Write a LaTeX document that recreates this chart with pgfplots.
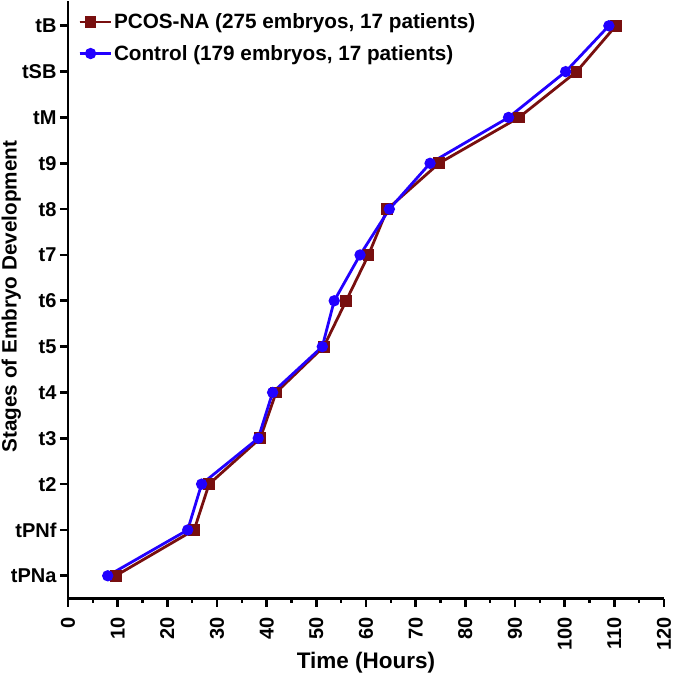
\documentclass[border=0pt]{standalone}
\usepackage{fontspec}
\setmainfont{Liberation Sans}
\usepackage{pgfplots}
\pgfplotsset{compat=1.18}
\definecolor{pcos}{RGB}{120,15,15}
\definecolor{ctrl}{RGB}{34,0,255}
\begin{document}
\begin{tikzpicture}
\begin{axis}[
  scale only axis,
  width=596pt, height=598.1pt,
  xmin=0, xmax=120, ymin=-0.5, ymax=12.55,
  axis x line*=bottom, axis y line*=left,
  axis line style={line width=2.8pt, -},
  every tick/.style={line width=2.6pt, black},
  tick align=outside,
  major tick length=8pt, minor tick length=4pt,
  xtick={0,10,...,120}, minor xtick={5,15,...,115},
  ytick={0,...,12},
  yticklabels={tPNa,tPNf,t2,t3,t4,t5,t6,t7,t8,t9,tM,tSB,tB},
  /pgf/number format/assume math mode=true,
  tick label style={font=\fontsize{20}{22}\selectfont\bfseries},
  xticklabel style={rotate=90, anchor=east, inner sep=1pt},
  xticklabel shift=9.5pt,
  xlabel={Time (Hours)},
  ylabel={Stages of Embryo Development},
  xlabel style={font=\fontsize{22.5}{24}\selectfont\bfseries, yshift=3.5pt},
  every axis y label/.style={at={(axis description cs:0,0.505)},
    xshift=-43.5pt, rotate=90, anchor=south,
    font=\fontsize{20.7}{22}\selectfont\bfseries},
  clip=false,
  legend cell align=left,
  legend style={at={(0,1)}, anchor=north west, draw=none, fill=none,
    font=\fontsize{20.7}{22}\selectfont\bfseries, row sep=11pt,
    xshift=7pt, yshift=-9pt},
  legend image code/.code={\path (0pt,0pt) -- (31pt,0pt);
    \draw[#1] (0pt,0pt) -- (22pt,0pt);
    \draw[#1, only marks] plot coordinates {(11pt,0pt)};},
]
\addplot[color=pcos, line width=2.8pt, mark=square*, mark size=4.5pt,
  mark options={solid}] coordinates {
  (9.6,0) (25.4,1) (28.4,2) (38.7,3) (41.9,4) (51.5,5) (56.0,6)
  (60.5,7) (64.3,8) (74.7,9) (90.8,10) (102.4,11) (110.3,12)};
\addlegendentry{PCOS-NA (275 embryos, 17 patients)}
\addplot[color=ctrl, line width=2.8pt, mark=*, mark size=4.2pt,
  mark options={solid}] coordinates {
  (8.0,0) (24.1,1) (26.9,2) (38.3,3) (41.2,4) (51.2,5) (53.6,6)
  (58.8,7) (64.7,8) (72.9,9) (88.7,10) (100.2,11) (108.9,12)};
\addlegendentry{Control (179 embryos, 17 patients)}
\end{axis}
\pgfresetboundingbox
\path[use as bounding box] (-68pt,-75.3pt) rectangle (606pt,598.7pt);
\end{tikzpicture}
\end{document}
